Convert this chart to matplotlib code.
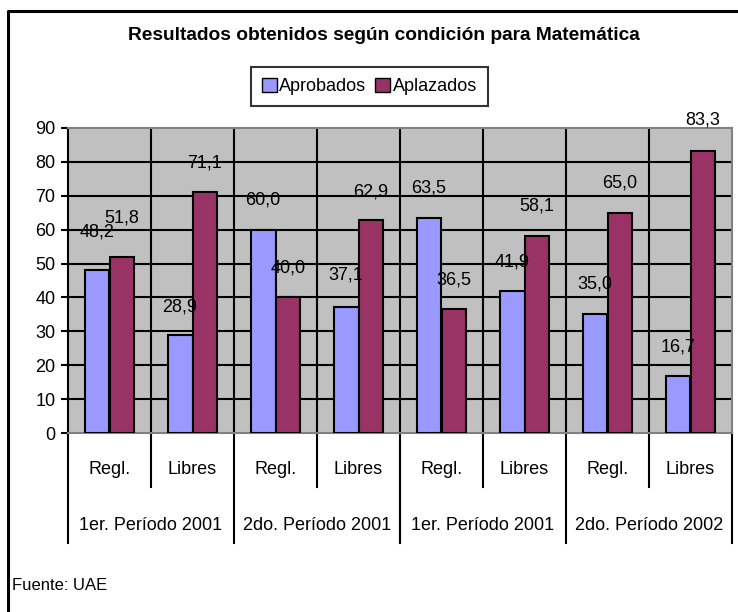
import numpy as np
import matplotlib
matplotlib.use("Agg")
import matplotlib.pyplot as plt
from matplotlib.lines import Line2D
from matplotlib.patches import Patch

plt.rcParams['font.family'] = ['Liberation Sans', 'DejaVu Sans']

# datos
condiciones = ["Regl.", "Libres", "Regl.", "Libres", "Regl.", "Libres", "Regl.", "Libres"]
periodos = ["1er. Período 2001", "2do. Período 2001", "1er. Período 2001", "2do. Período 2002"]
aprobados = [48.2, 28.9, 60.0, 37.1, 63.5, 41.9, 35.0, 16.7]
aplazados = [51.8, 71.1, 40.0, 62.9, 36.5, 58.1, 65.0, 83.3]
yticks = [0, 10, 20, 30, 40, 50, 60, 70, 80, 90]

# altura extra de cada etiqueta sobre su barra (unidades del eje)
sube_apr = [11.1, 8.3, 8.7, 9.5, 8.8, 8.5, 9.0, 8.7]
sube_apl = [11.6, 8.5, 8.7, 8.2, 8.6, 8.9, 8.7, 9.0]

AZUL = '#9999FF'
GRANATE = '#993366'
FS = 13

W, H = 738, 612
fig = plt.figure(figsize=(W / 100, H / 100), dpi=100)
fig.patch.set_facecolor('white')

# area de trazado en pixeles
x0, x1 = 68, 732
ytop, ybot = 128, 433
ax = fig.add_axes([x0 / W, 1 - ybot / H, (x1 - x0) / W, (ybot - ytop) / H])
ax.set_facecolor('#C0C0C0')

n = len(condiciones)
pos = np.arange(n) + 0.5
w = 0.3
ax.bar(pos - w / 2, aprobados, w, color=AZUL, edgecolor='black', linewidth=1.5, zorder=3)
ax.bar(pos + w / 2, aplazados, w, color=GRANATE, edgecolor='black', linewidth=1.5, zorder=3)
ax.set_xlim(0, n)
ax.set_ylim(0, 90)

# rejilla
for y in yticks[1:-1]:
    ax.axhline(y, color='black', lw=1.5, zorder=1)
for x in range(1, n):
    ax.axvline(x, color='black', lw=1.5, zorder=1)

for s in ['top', 'right', 'bottom']:
    ax.spines[s].set_color('#808080')
    ax.spines[s].set_linewidth(1.5)
ax.spines['left'].set_color('black')
ax.spines['left'].set_linewidth(1.5)

ax.set_yticks(yticks)
ax.set_yticklabels([str(v) for v in yticks], fontsize=FS)
ax.tick_params(axis='y', direction='out', length=5, width=1.5, pad=4)
ax.set_xticks([])

# etiquetas de valor
fmt = lambda v: f"{v:.1f}".replace('.', ',')
for i in range(n):
    ax.text(pos[i] - w / 2, aprobados[i] + sube_apr[i], fmt(aprobados[i]),
            ha='center', va='center', fontsize=FS, zorder=5, clip_on=False)
    ax.text(pos[i] + w / 2, aplazados[i] + sube_apl[i], fmt(aplazados[i]),
            ha='center', va='center', fontsize=FS, zorder=5, clip_on=False)

# eje de categorias en dos niveles
tr = ax.get_xaxis_transform()
alto = ybot - ytop
for x in range(1, n, 2):
    ax.add_line(Line2D([x, x], [0, -54 / alto], transform=tr, color='black',
                       lw=1.5, clip_on=False))
for x in range(0, n + 1, 2):
    ax.add_line(Line2D([x, x], [0, -110 / alto], transform=tr, color='black',
                       lw=1.5, clip_on=False))
for i, c in enumerate(condiciones):
    ax.text(pos[i], -37 / alto, c, transform=tr, ha='center', va='center', fontsize=FS)
for k, p in enumerate(periodos):
    ax.text(2 * k + 1, -92 / alto, p, transform=tr, ha='center', va='center', fontsize=FS)

# titulo y leyenda
fig.text(384 / W, 1 - 35 / H, "Resultados obtenidos según condición para Matemática",
         ha='center', va='center', fontsize=13.8, fontweight='bold')
handles = [Patch(facecolor=AZUL, edgecolor='black', label='Aprobados'),
           Patch(facecolor=GRANATE, edgecolor='black', label='Aplazados')]
leg = fig.legend(handles=handles, loc='center', bbox_to_anchor=(369.5 / W, 1 - 86.5 / H),
                 ncol=2, fontsize=FS, frameon=True, fancybox=False, edgecolor='black',
                 handlelength=0.8, handleheight=0.8, handletextpad=0.15,
                 columnspacing=0.5, borderpad=0.6, borderaxespad=0)
leg.get_frame().set_linewidth(1.5)

fig.text(12 / W, 1 - 585 / H, "Fuente: UAE", ha='left', va='center', fontsize=12)

# marco exterior
fig.add_artist(Line2D([8 / W, 8 / W, 1], [0, 1 - 11 / H, 1 - 11 / H],
                      color='black', lw=2.2))

fig.savefig('out.png', dpi=100)
